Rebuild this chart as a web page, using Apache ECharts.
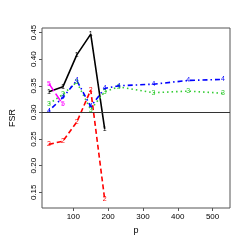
<!DOCTYPE html>
<html><head><meta charset="utf-8">
<script src="https://cdn.jsdelivr.net/npm/echarts@6/dist/echarts.min.js"></script>
<style>html,body{margin:0;padding:0;background:#fff}#c{width:245px;height:245px}</style>
</head><body><div id="c"></div>
<script>
const xShort = [30, 70, 110, 150, 190];
const xLong = [30, 70, 110, 150, 190, 230, 330, 430, 530];
const xFive = [30, 70];
const s1 = [0.339, 0.348, 0.408, 0.447, 0.269];
const s2 = [0.240, 0.246, 0.282, 0.342, 0.137];
const s3 = [0.316, 0.334, 0.357, 0.305, 0.339, 0.348, 0.337, 0.340, 0.336];
const s4 = [0.303, 0.328, 0.360, 0.311, 0.345, 0.350, 0.353, 0.360, 0.362];
const s5 = [0.354, 0.315];
const xTicks = [100, 200, 300, 400, 500];
const yTicks = [0.15, 0.20, 0.25, 0.30, 0.35, 0.40, 0.45];
const refLine = 0.30;

const FONT = 'Liberation Sans';
function pairs(xs, ys) { return xs.map((x, i) => [x, ys[i]]); }
function mk(name, xs, ys, color, width, dash, tag) {
  return {
    name: name, type: 'line', data: pairs(xs, ys),
    symbol: 'circle', symbolSize: 1, showSymbol: true,
    itemStyle: { color: 'rgba(0,0,0,0)' },
    lineStyle: { color: color, width: width, type: dash },
    label: { show: true, position: 'inside', formatter: tag, color: color,
             fontSize: 7, fontFamily: FONT },
    emphasis: { disabled: true }, animation: false, z: 3
  };
}
const chart = echarts.init(document.getElementById('c'), null, { renderer: 'canvas' });
chart.setOption({
  animation: false,
  grid: { left: 28, top: 28, width: 202, height: 180, show: true,
          borderColor: '#555', borderWidth: 1, backgroundColor: 'transparent' },
  xAxis: {
    type: 'value', min: 10, max: 550,
    name: 'p', nameLocation: 'middle', nameGap: 18,
    nameTextStyle: { fontSize: 9, fontFamily: FONT, color: '#000' },
    axisLine: { show: false },
    axisTick: { show: true, length: 3, customValues: xTicks, lineStyle: { color: '#555' } },
    axisLabel: { customValues: xTicks, fontSize: 8, fontFamily: FONT, color: '#000', margin: 5 },
    splitLine: { show: false }
  },
  yAxis: {
    type: 'value', min: 0.1205, max: 0.4585,
    name: 'FSR', nameLocation: 'middle', nameGap: 25,
    nameTextStyle: { fontSize: 9, fontFamily: FONT, color: '#000' },
    axisLine: { show: false },
    axisTick: { show: true, length: 3, customValues: yTicks, lineStyle: { color: '#555' } },
    axisLabel: { customValues: yTicks, fontSize: 8, fontFamily: FONT, color: '#000', margin: 4,
                 rotate: 90, formatter: v => v.toFixed(2) },
    splitLine: { show: false }
  },
  series: [
    mk('1', xShort, s1, '#000000', 1.6, 'solid', '1'),
    mk('2', xShort, s2, '#ff0000', 1.6, [5, 3], '2'),
    mk('3', xLong, s3, '#33cc33', 1.6, [1.5, 3], '3'),
    mk('4', xLong, s4, '#0000ff', 1.6, [1.5, 3, 5, 3], '4'),
    mk('5', xFive, s5, '#ff00ff', 1.6, [9, 3], '5'),
    { type: 'line', data: [], markLine: { silent: true, symbol: 'none', label: { show: false },
        lineStyle: { color: '#333', width: 1, type: 'solid' }, data: [{ yAxis: refLine }] } }
  ]
});
</script></body></html>
